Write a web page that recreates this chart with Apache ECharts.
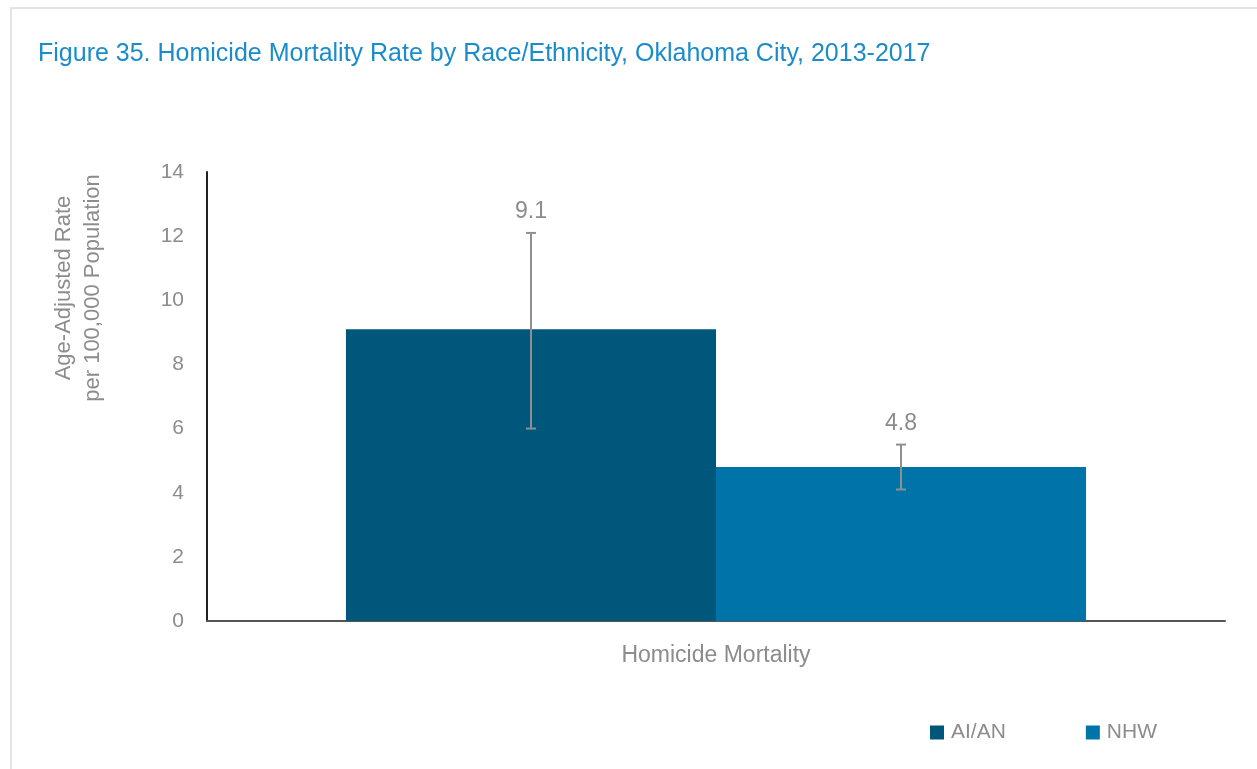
<!DOCTYPE html>
<html>
<head>
<meta charset="utf-8">
<script src="https://cdn.jsdelivr.net/npm/echarts@6/dist/echarts.min.js"></script>
<style>
html,body{margin:0;padding:0;background:#fff;}
#chart{width:1257px;height:769px;}
</style>
</head>
<body>
<div id="chart"></div>
<script>
var categories = ['Homicide Mortality'];
var seriesNames = ['AI/AN', 'NHW'];
var rates = [9.1, 4.8];
var lowerCI = [6.0, 4.1];
var upperCI = [12.1, 5.5];
var yTicks = [0, 2, 4, 6, 8, 10, 12, 14];
var colors = ['#00577c', '#0074a8'];

var FONT = '"Liberation Sans Narrow", "Arial Narrow", "Liberation Sans", sans-serif';
var GRAY = '#8c8c8c';
var GAP = 0.273;

var chart = echarts.init(document.getElementById('chart'));

function errorSeries(idx) {
  return {
    type: 'custom',
    name: seriesNames[idx] + ' CI',
    data: [[0, lowerCI[idx], upperCI[idx], rates[idx]]],
    z: 10,
    silent: true,
    renderItem: function (params, api) {
      var band = api.size([1, 0])[0];
      var barW = band * (1 - GAP) / 2;
      var center = api.coord([api.value(0), 0])[0];
      var x = center + (idx === 0 ? -barW / 2 : barW / 2);
      var lo = api.coord([0, api.value(1)])[1];
      var hi = api.coord([0, api.value(2)])[1];
      var cap = 5;
      var st = { stroke: '#8f8f8f', lineWidth: 2 };
      return {
        type: 'group',
        children: [
          { type: 'line', shape: { x1: x, y1: lo, x2: x, y2: hi }, style: st },
          { type: 'line', shape: { x1: x - cap, y1: lo, x2: x + cap, y2: lo }, style: st },
          { type: 'line', shape: { x1: x - cap, y1: hi, x2: x + cap, y2: hi }, style: st },
          { type: 'text', x: x, y: hi - 21,
            style: { text: api.value(3).toFixed(1), fill: GRAY, font: '23px ' + FONT,
                     textAlign: 'center', textVerticalAlign: 'middle' } }
        ]
      };
    }
  };
}

var option = {
  animation: false,
  backgroundColor: '#ffffff',
  title: {
    text: 'Figure 35. Homicide Mortality Rate by Race/Ethnicity, Oklahoma City, 2013-2017',
    left: 33, top: 37,
    textStyle: { color: '#1a8ccc', fontFamily: FONT, fontSize: 25, fontWeight: 'normal' }
  },
  legend: {
    data: seriesNames,
    left: 925, top: 717,
    itemWidth: 14, itemHeight: 14, itemGap: 80,
    icon: 'rect',
    textStyle: { color: GRAY, fontFamily: FONT, fontSize: 21, padding: [0, 0, 0, 2] }
  },
  grid: { left: 207, right: 32, top: 172, bottom: 148, containLabel: false },
  xAxis: {
    type: 'category',
    data: categories,
    axisLine: { lineStyle: { color: '#555555', width: 2 } },
    axisTick: { show: false },
    axisLabel: { color: GRAY, fontFamily: FONT, fontSize: 23, margin: 23 }
  },
  yAxis: {
    type: 'value',
    min: yTicks[0], max: yTicks[yTicks.length - 1], interval: 2,
    axisLine: { show: true, lineStyle: { color: '#222222', width: 2 } },
    axisTick: { show: false },
    splitLine: { show: false },
    axisLabel: { color: GRAY, fontFamily: FONT, fontSize: 21, margin: 23 }
  },
  graphic: [
    { type: 'line', shape: { x1: 10, y1: 8, x2: 1257, y2: 8 }, style: { stroke: '#e3e3e3', lineWidth: 2 } },
    { type: 'line', shape: { x1: 11, y1: 8, x2: 11, y2: 769 }, style: { stroke: '#e3e3e3', lineWidth: 2 } },
    { type: 'text', x: 78, y: 288, rotation: Math.PI / 2,
      style: { text: 'Age-Adjusted Rate\nper 100,000 Population', fill: GRAY, font: '22px ' + FONT,
               textAlign: 'center', textVerticalAlign: 'middle', lineHeight: 29 } }
  ],
  series: [
    { type: 'bar', name: seriesNames[0], data: [rates[0]], itemStyle: { color: colors[0] },
      barGap: '0%', barCategoryGap: (GAP * 100) + '%' },
    { type: 'bar', name: seriesNames[1], data: [rates[1]], itemStyle: { color: colors[1] },
      barGap: '0%', barCategoryGap: (GAP * 100) + '%' },
    errorSeries(0),
    errorSeries(1)
  ]
};
chart.setOption(option);
</script>
</body>
</html>
